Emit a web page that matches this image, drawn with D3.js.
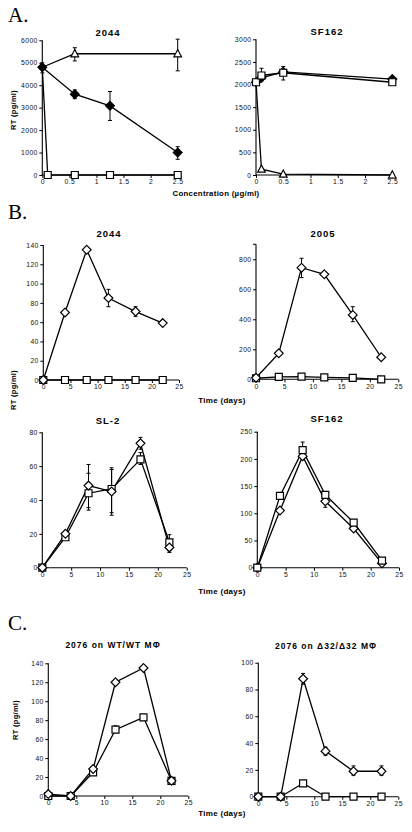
<!DOCTYPE html>
<html><head><meta charset="utf-8">
<script src="https://cdn.jsdelivr.net/npm/d3@7"></script>
<style>body{margin:0;background:#fff}svg{display:block}</style>
</head><body>
<script>
// ---------- DATA ----------
// Panel A: concentration (µg/ml)
const a1TriX = [0, 0.6, 2.5];
const a1TriY = [4800, 5400, 5400];
const a1TriLo = [null, 5080, 4640];
const a1TriHi = [null, 5670, 6050];
const a1DiaX = [0, 0.6, 1.25, 2.5];
const a1DiaY = [4800, 3600, 3080, 1000];
const a1DiaLo = [4550, 3400, 2430, 700];
const a1DiaHi = [5000, 3790, 3720, 1260];
const a1SqX = [0, 0.1, 0.6, 1.25, 2.5];
const a1SqY = [4800, 0, 0, 0, 0];

const a2SqX = [0, 0.1, 0.5, 2.5];
const a2SqY = [2050, 2200, 2260, 2050];
const a2SqLo = [null, 2080, 2100, null];
const a2SqHi = [null, 2360, 2400, null];
const a2DiaX = [0, 0.1, 0.5, 2.5];
const a2DiaY = [2050, 2150, 2280, 2120];
const a2TriX = [0, 0.1, 0.5, 2.5];
const a2TriY = [2050, 130, 20, 0];

const concTicks = [0, 0.5, 1, 1.5, 2, 2.5];
const a1YTicks = [0, 1000, 2000, 3000, 4000, 5000, 6000];
const a2YTicks = [0, 500, 1000, 1500, 2000, 2500, 3000];

// Panels B and C: time (days)
const days = [0, 4, 8, 12, 17, 22];
const dayTicks = [0, 5, 10, 15, 20, 25];

const b1Dia = [0, 70, 135, 85, 71, 59];
const b1DiaLo = [null, null, null, 76, 66, null];
const b1DiaHi = [null, null, null, 94, 76, null];
const b1Sq = [0, 0, 0, 0, 0, 0];
const b1YTicks = [0, 20, 40, 60, 80, 100, 120, 140];

const b2Dia = [10, 173, 744, 700, 429, 147];
const b2DiaLo = [null, null, 678, null, 384, null];
const b2DiaHi = [null, null, 807, null, 484, null];
const b2Sq = [7, 16, 18, 13, 9, 0];
const b2YTicks = [0, 200, 400, 600, 800];

const b3Dia = [0, 20, 48.5, 45, 73.5, 12];
const b3DiaLo = [null, null, 34, 31, 70, 9];
const b3DiaHi = [null, null, 61, 59, 77, 14];
const b3Sq = [0, 18, 44, 46.5, 64, 15];
const b3SqLo = [null, null, 35.5, 32.5, 61, 10];
const b3SqHi = [null, null, 55.8, 58, 68, 19.5];
const b3YTicks = [0, 20, 40, 60, 80];

const b4Sq = [0, 132, 216, 134, 83, 13];
const b4SqLo = [null, null, 205, null, null, null];
const b4SqHi = [null, null, 231, null, null, null];
const b4Dia = [0, 105, 205, 122, 72, 8];
const b4DiaLo = [null, null, null, 111, null, null];
const b4DiaHi = [null, null, null, 130, null, null];
const b4YTicks = [0, 50, 100, 150, 200, 250];

const c1Dia = [2, 0, 28.5, 120, 135, 16];
const c1Sq = [0, 0, 25, 70, 83, 16];
const c1SqLo = [null, null, null, 67, null, null];
const c1SqHi = [null, null, null, 74, null, null];
const c1YTicks = [0, 20, 40, 60, 80, 100, 120, 140];

const c2Dia = [0, 0, 88, 34, 19, 19];
const c2DiaLo = [null, null, 84, 31, 16, 16];
const c2DiaHi = [null, null, 92, 37, 23, 23];
const c2Sq = [0, 0, 10, 0, 0, 0];
const c2YTicks = [0, 20, 40, 60, 80, 100];

// ---------- DRAWING ----------
const svg = d3.select("body").append("svg").attr("width", 412).attr("height", 832);
const FONT = "'Liberation Sans', Arial, sans-serif";

function panel(cfg) {
  const g = svg.append("g");
  const x = d3.scaleLinear().domain(cfg.xDomain).range([cfg.left, cfg.right]);
  const y = d3.scaleLinear().domain(cfg.yDomain).range([cfg.bottom, cfg.top]);

  const ya = d3.axisLeft(y).tickValues(cfg.yTicks).tickSize(3).tickPadding(1.5).tickFormat(d3.format("d"));
  const gy = g.append("g").attr("transform", `translate(${cfg.left},0)`).call(ya);
  if (cfg.extraTop) {
    gy.append("line").attr("x1", -3).attr("x2", 0).attr("y1", y(cfg.yDomain[1])).attr("y2", y(cfg.yDomain[1])).attr("stroke", "#000");
  }
  const xa = d3.axisBottom(x).tickValues(cfg.xTicks).tickSize(3).tickPadding(1.5).tickFormat(d => String(d));
  const gx = g.append("g").attr("transform", `translate(0,${cfg.bottom})`).call(xa);
  [gy, gx].forEach(a => {
    a.select(".domain").attr("stroke", "#000").attr("stroke-width", 1.1);
    a.selectAll(".tick line").attr("stroke", "#000");
    a.selectAll("text").attr("font-family", FONT).attr("font-size", 6.8).attr("fill", "#111").attr("letter-spacing", 0.4);
  });
  gy.select(".domain").attr("d", `M0,${cfg.bottom}V${cfg.top}`);
  gx.select(".domain").attr("d", `M${cfg.left},0H${cfg.right}`);

  g.append("text").attr("x", cfg.titleX).attr("y", cfg.titleY).attr("text-anchor", "middle")
    .attr("font-family", FONT).attr("font-weight", "bold").attr("font-size", cfg.titleSize || 9.5)
    .attr("letter-spacing", 1).text(cfg.title);

  cfg.series.forEach(s => {
    const pts = s.x.map((xv, i) => ({x: xv, y: s.y[i], lo: s.lo ? s.lo[i] : null, hi: s.hi ? s.hi[i] : null}));
    g.append("path").datum(pts)
      .attr("d", d3.line().x(d => x(d.x)).y(d => y(d.y)))
      .attr("fill", "none").attr("stroke", "#000").attr("stroke-width", 1.3);
    pts.filter(d => d.lo != null && d.hi != null).forEach(d => {
      const cx = x(d.x);
      g.append("line").attr("x1", cx).attr("x2", cx).attr("y1", y(d.lo)).attr("y2", y(d.hi)).attr("stroke", "#000").attr("stroke-width", 1);
      [d.lo, d.hi].forEach(v => g.append("line").attr("x1", cx - 2).attr("x2", cx + 2).attr("y1", y(v)).attr("y2", y(v)).attr("stroke", "#000").attr("stroke-width", 1));
    });
  });
  cfg.series.forEach(s => {
    const pts = s.x.map((xv, i) => ({x: xv, y: s.y[i]}));
    pts.forEach((d, i) => {
      if (s.skip && s.skip.includes(i)) return;
      const cx = x(d.x), cy = y(d.y);
      let p;
      if (s.shape === "square") {
        const h = 3.5;
        p = `M${cx - h},${cy - h}H${cx + h}V${cy + h}H${cx - h}Z`;
      } else if (s.shape === "diamond") {
        const h = 4.4;
        p = `M${cx},${cy - h}L${cx + h},${cy}L${cx},${cy + h}L${cx - h},${cy}Z`;
      } else {
        const h = 3.8;
        p = `M${cx},${cy - h * 1.1}L${cx + h},${cy + h * 0.8}L${cx - h},${cy + h * 0.8}Z`;
      }
      g.append("path").attr("d", p).attr("fill", s.fill || "#fff").attr("stroke", "#000").attr("stroke-width", 1.2);
    });
  });
}

// Panel A
panel({left: 42.3, right: 177.7, bottom: 175, top: 40.3, xDomain: [0, 2.5], yDomain: [0, 6000],
  xTicks: concTicks, yTicks: a1YTicks, title: "2044", titleX: 108, titleY: 36,
  series: [
    {shape: "square", x: a1SqX, y: a1SqY, skip: [0]},
    {shape: "triangle", x: a1TriX, y: a1TriY, lo: a1TriLo, hi: a1TriHi, skip: [0]},
    {shape: "diamond", x: a1DiaX, y: a1DiaY, lo: a1DiaLo, hi: a1DiaHi, fill: "#000"}
  ]});
panel({left: 256, right: 392.3, bottom: 175, top: 39.3, xDomain: [0, 2.5], yDomain: [0, 3000],
  xTicks: concTicks, yTicks: a2YTicks, title: "SF162", titleX: 327, titleY: 35,
  series: [
    {shape: "triangle", x: a2TriX, y: a2TriY, skip: [0]},
    {shape: "diamond", x: a2DiaX, y: a2DiaY, fill: "#000"},
    {shape: "square", x: a2SqX, y: a2SqY, lo: a2SqLo, hi: a2SqHi}
  ]});

// Panel B
panel({left: 43.3, right: 179, bottom: 380, top: 245, xDomain: [0, 25], yDomain: [0, 140],
  xTicks: dayTicks, yTicks: b1YTicks, title: "2044", titleX: 109, titleY: 237,
  series: [
    {shape: "square", x: days, y: b1Sq},
    {shape: "diamond", x: days, y: b1Dia, lo: b1DiaLo, hi: b1DiaHi}
  ]});
panel({left: 256, right: 398.3, bottom: 379.3, top: 244.3, xDomain: [0, 25], yDomain: [0, 900],
  xTicks: dayTicks, yTicks: b2YTicks, extraTop: true, title: "2005", titleX: 323, titleY: 237,
  series: [
    {shape: "square", x: days, y: b2Sq},
    {shape: "diamond", x: days, y: b2Dia, lo: b2DiaLo, hi: b2DiaHi}
  ]});
panel({left: 42.3, right: 186.7, bottom: 567.7, top: 432.3, xDomain: [0, 25], yDomain: [0, 80],
  xTicks: dayTicks, yTicks: b3YTicks, title: "SL-2", titleX: 108, titleY: 424,
  series: [
    {shape: "square", x: days, y: b3Sq, lo: b3SqLo, hi: b3SqHi},
    {shape: "diamond", x: days, y: b3Dia, lo: b3DiaLo, hi: b3DiaHi}
  ]});
panel({left: 257.3, right: 399, bottom: 567.7, top: 431.7, xDomain: [0, 25], yDomain: [0, 250],
  xTicks: dayTicks, yTicks: b4YTicks, title: "SF162", titleX: 327, titleY: 422,
  series: [
    {shape: "diamond", x: days, y: b4Dia, lo: b4DiaLo, hi: b4DiaHi},
    {shape: "square", x: days, y: b4Sq, lo: b4SqLo, hi: b4SqHi}
  ]});

// Panel C
panel({left: 48.3, right: 188.3, bottom: 796, top: 663.3, xDomain: [0, 25], yDomain: [0, 140],
  xTicks: dayTicks, yTicks: c1YTicks, title: "2076 on WT/WT MΦ", titleX: 113, titleY: 648, titleSize: 8.5,
  series: [
    {shape: "square", x: days, y: c1Sq, lo: c1SqLo, hi: c1SqHi},
    {shape: "diamond", x: days, y: c1Dia}
  ]});
panel({left: 258.3, right: 398.3, bottom: 796.7, top: 662.7, xDomain: [0, 25], yDomain: [0, 100],
  xTicks: dayTicks, yTicks: c2YTicks, title: "2076 on Δ32/Δ32 MΦ", titleX: 326, titleY: 649, titleSize: 8.5,
  series: [
    {shape: "square", x: days, y: c2Sq},
    {shape: "diamond", x: days, y: c2Dia, lo: c2DiaLo, hi: c2DiaHi}
  ]});

[["A.", 22], ["B.", 219], ["C.", 630]].forEach(([t, yy]) =>
  svg.append("text").attr("x", 8).attr("y", yy).attr("font-family", "'Liberation Serif', 'Times New Roman', serif")
    .attr("font-size", 21).text(t));

function label(t, x, y, rot, size) {
  svg.append("text").attr("transform", `translate(${x},${y})` + (rot ? " rotate(-90)" : ""))
    .attr("text-anchor", "middle").attr("font-family", FONT).attr("font-weight", "bold")
    .attr("font-size", size).attr("letter-spacing", 0.3).text(t);
}
label("RT (pg/ml)", 16, 110, true, 7.5);
label("RT (pg/ml)", 16, 390, true, 7.5);
label("RT (pg/ml)", 18, 720, true, 7.5);
label("Concentration (µg/ml)", 216, 196, false, 7.8);
label("Time (days)", 222, 403, false, 8);
label("Time (days)", 222, 594, false, 8);
label("Time (days)", 222, 816, false, 8);
</script>
</body></html>
